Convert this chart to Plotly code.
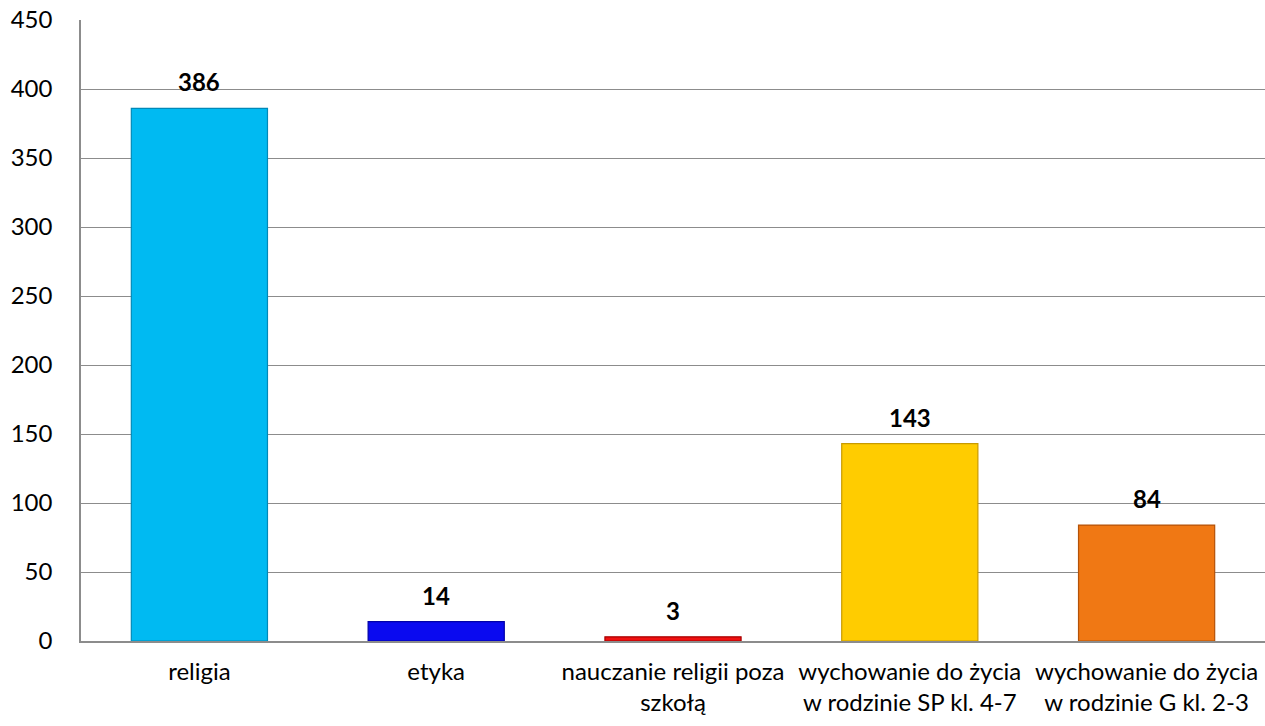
import plotly.graph_objects as go

categories = [
    "religia",
    "etyka",
    "nauczanie religii poza<br>szkołą",
    "wychowanie do życia<br>w rodzinie SP kl. 4-7",
    "wychowanie do życia<br>w rodzinie G kl. 2-3",
]
values = [386, 14, 3, 143, 84]
colors = ["#00BAF2", "#0A0AF0", "#F01010", "#FFCC00", "#F07814"]
edge_colors = ["#0089B8", "#0000A8", "#A80000", "#C89A00", "#B45208"]
y_ticks = [0, 50, 100, 150, 200, 250, 300, 350, 400, 450]

FONT = "Lato, Calibri, 'Noto Sans', sans-serif"
FS = 24

fig = go.Figure()
fig.add_trace(go.Bar(
    x=categories,
    y=values,
    marker=dict(color=colors, line=dict(color=edge_colors, width=1.2)),
    width=0.575,
    hoverinfo="x+y",
))

for c, v in zip(categories, values):
    fig.add_annotation(
        x=c, y=v, text=f"<b>{v}</b>", showarrow=False,
        yanchor="bottom", yshift=10,
        font=dict(family=FONT, size=FS, color="#000000"),
    )

fig.update_layout(
    width=1265, height=726,
    margin=dict(l=81, r=0, t=20, b=85),
    paper_bgcolor="white", plot_bgcolor="white",
    showlegend=False,
    font=dict(family=FONT, size=FS, color="#000000"),
)
fig.update_xaxes(
    showline=True, linecolor="#8C8C8C", linewidth=1.5,
    showgrid=False, ticks="", tickfont=dict(size=FS),
    ticklabelstandoff=8, automargin=False,
    range=[-0.5, 4.5],
)
fig.update_yaxes(
    range=[0, 450.001], tickvals=y_ticks,
    showline=True, linecolor="#8C8C8C", linewidth=1.5,
    showgrid=True, gridcolor="#8C8C8C", gridwidth=1,
    zeroline=False, ticks="", ticklabelstandoff=22,
    ticklabeloverflow="allow", automargin=False,
    tickfont=dict(size=FS),
)

fig.write_html(
    "out.html",
    config={"displayModeBar": False},
    post_script="document.body.style.margin='0';document.body.style.overflow='hidden';",
)
